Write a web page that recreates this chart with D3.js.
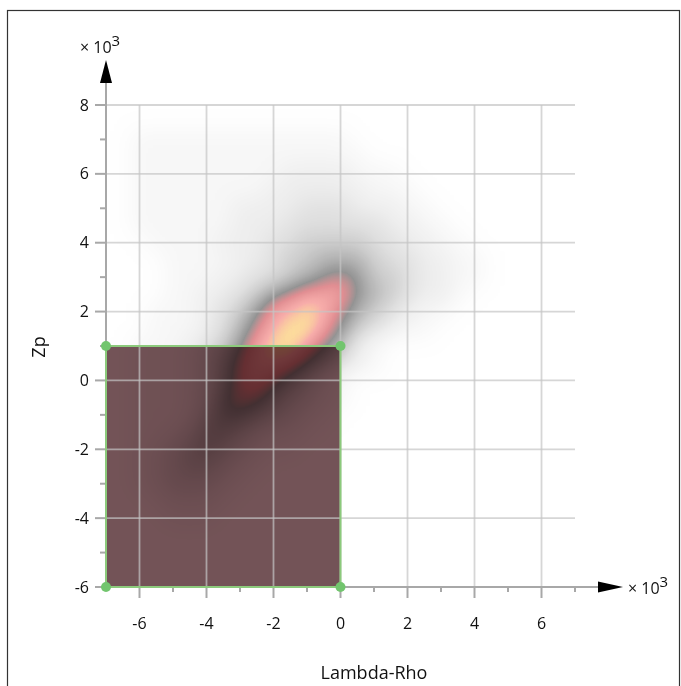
<!DOCTYPE html>
<html>
<head>
<meta charset="utf-8">
<script src="https://cdn.jsdelivr.net/npm/d3@7"></script>
<style>
  body { margin: 0; background: #fff; }
  text { font-family: "Open Sans", "DejaVu Sans", sans-serif; fill: #111; }
</style>
</head>
<body>
<div id="maViz"></div>
<script>
// Données ---------------------------------------------
const xTicks = [-6, -4, -2, 0, 2, 4, 6];
const yTicks = [-6, -4, -2, 0, 2, 4, 6, 8];
const xMinor = [-5, -3, -1, 1, 3, 5, 7];
const yMinor = [-5, -3, -1, 1, 3, 5, 7];
const xTitle = "Lambda-Rho";
const yTitle = "Zp";

// zone sélectionnée (x -7..0, y -6..1)
const boxX = [-7, 0];
const boxY = [-6, 1];

// densité, niveaux 0..9, pas de 0.5
const densX = [-6, -5.5, -5, -4.5, -4, -3.5, -3, -2.5, -2, -1.5, -1, -0.5, 0, 0.5, 1, 1.5, 2, 2.5, 3, 3.5, 4];
const densY = [7, 6.5, 6, 5.5, 5, 4.5, 4, 3.5, 3, 2.5, 2, 1.5, 1, 0.5, 0, -0.5, -1, -1.5, -2, -2.5, -3, -3.5, -4];
const densLevels = [
  [1,1,1,1,1,1,1,1,1,1,1,1,1,0,0,0,0,0,0,0,0],
  [1,1,1,1,1,1,1,1,1,1,1,1,1,1,0,0,0,0,0,0,0],
  [1,1,1,1,1,1,1,1,1,2,2,2,2,1,1,1,0,0,0,0,0],
  [1,1,1,1,1,1,1,1,2,2,2,2,2,2,1,1,1,0,0,0,0],
  [1,1,1,1,1,1,2,2,2,2,3,3,3,2,2,2,1,1,0,0,0],
  [1,1,1,1,1,1,2,2,2,3,3,3,3,3,3,2,2,1,1,0,0],
  [0,1,1,1,1,2,2,2,3,3,4,4,4,4,3,3,2,2,1,1,0],
  [0,0,1,1,1,1,2,2,3,4,4,5,5,5,4,3,3,2,2,1,1],
  [0,0,1,1,1,2,2,3,3,4,5,6,7,6,4,4,3,2,2,1,1],
  [0,0,1,1,2,2,3,4,6,7,8,8,8,6,5,4,3,2,2,1,0],
  [0,1,1,1,2,3,4,6,8,8,9,8,7,5,4,3,2,1,1,0,0],
  [0,1,1,1,2,3,5,7,8,9,9,8,6,4,3,2,1,1,0,0,0],
  [1,1,1,2,3,4,6,8,9,9,8,6,5,2,1,0,0,0,0,0,0],
  [1,1,1,2,3,5,7,8,8,8,6,5,3,2,1,0,0,0,0,0,0],
  [1,1,1,2,3,5,7,8,7,5,4,2,1,0,0,0,0,0,0,0,0],
  [1,1,1,2,3,6,7,7,5,4,3,2,1,0,0,0,0,0,0,0,0],
  [1,1,1,2,4,6,6,5,4,3,2,1,0,0,0,0,0,0,0,0,0],
  [1,1,2,3,5,5,4,3,2,2,1,0,0,0,0,0,0,0,0,0,0],
  [1,2,3,4,5,4,3,2,1,1,0,0,0,0,0,0,0,0,0,0,0],
  [1,2,3,4,4,3,2,1,0,0,0,0,0,0,0,0,0,0,0,0,0],
  [1,2,3,3,3,2,1,0,0,0,0,0,0,0,0,0,0,0,0,0,0],
  [0,1,2,2,2,1,0,0,0,0,0,0,0,0,0,0,0,0,0,0,0],
  [0,0,1,1,1,0,0,0,0,0,0,0,0,0,0,0,0,0,0,0,0]
];

// palette : blanc -> gris -> rose -> jaune (un par niveau)
const paletteR = [255, 247, 238, 224, 204, 178, 148, 225, 247, 255];
const paletteG = [255, 247, 238, 224, 204, 178, 148, 142, 172, 242];
const paletteB = [255, 247, 238, 224, 204, 178, 148, 146, 170, 150];

// Dimensions ------------------------------------------
const W = 681, H = 686;
const boxColor = '#735357';
const green = '#8cca7c';
const axisColor = '#a8a8a8';

const svg = d3.select("#maViz")
  .append("svg")
    .attr("width", W)
    .attr("height", H);

const x = d3.scaleLinear().domain([-7, 7]).range([106, 575]);
const y = d3.scaleLinear().domain([-6, 8]).range([587, 105]);
const lvl = d3.scaleLinear().domain([0, 9]).range([0, 255]);

// cadre
svg.append("rect")
  .attr("x", 7.5).attr("y", 10.5)
  .attr("width", 672).attr("height", 700)
  .attr("fill", "none").attr("stroke", "#333").attr("stroke-width", 1.2);

const defs = svg.append("defs");
const filt = defs.append("filter")
  .attr("id", "heat")
  .attr("x", "-5%").attr("y", "-5%").attr("width", "110%").attr("height", "110%")
  .attr("color-interpolation-filters", "sRGB");
filt.append("feGaussianBlur").attr("stdDeviation", 11);
const ct = filt.append("feComponentTransfer");
ct.append("feFuncR").attr("type", "table").attr("tableValues", paletteR.map(v => (v / 255).toFixed(3)).join(" "));
ct.append("feFuncG").attr("type", "table").attr("tableValues", paletteG.map(v => (v / 255).toFixed(3)).join(" "));
ct.append("feFuncB").attr("type", "table").attr("tableValues", paletteB.map(v => (v / 255).toFixed(3)).join(" "));

defs.append("clipPath").attr("id", "plotClip")
  .append("rect")
    .attr("x", x(-7)).attr("y", y(8))
    .attr("width", x(7) - x(-7)).attr("height", y(-6) - y(8));

// Densité ---------------------------------------------
const cells = [];
densY.forEach((yy, i) => densX.forEach((xx, j) => cells.push({x: xx, y: yy, v: densLevels[i][j]})));

const heat = svg.append("g").attr("clip-path", "url(#plotClip)")
  .append("g").attr("filter", "url(#heat)");

heat.append("rect")
  .attr("x", x(-9)).attr("y", y(10))
  .attr("width", x(9) - x(-9)).attr("height", y(-8) - y(10))
  .attr("fill", "#000");

heat.selectAll("rect.cell")
  .data(cells)
  .join("rect")
    .attr("class", "cell")
    .attr("x", d => x(d.x - 0.25))
    .attr("y", d => y(d.y + 0.25))
    .attr("width", x(0.5) - x(0) + 0.5)
    .attr("height", y(0) - y(0.5) + 0.5)
    .attr("fill", d => { const g = Math.round(lvl(d.v)); return `rgb(${g},${g},${g})`; });

// zone brune (multiply)
svg.append("rect")
  .attr("x", x(boxX[0])).attr("y", y(boxY[1]))
  .attr("width", x(boxX[1]) - x(boxX[0]))
  .attr("height", y(boxY[0]) - y(boxY[1]))
  .attr("fill", boxColor)
  .style("mix-blend-mode", "multiply");

// Grille ----------------------------------------------
const grid = svg.append("g")
  .attr("stroke", "#c4c4c4").attr("stroke-opacity", 0.7).attr("stroke-width", 1.8);
grid.selectAll("line.gx")
  .data(xTicks)
  .join("line").attr("class", "gx")
    .attr("x1", d => x(d)).attr("x2", d => x(d))
    .attr("y1", y(-6)).attr("y2", y(8));
grid.selectAll("line.gy")
  .data(yTicks)
  .join("line").attr("class", "gy")
    .attr("x1", x(-7)).attr("x2", x(7))
    .attr("y1", d => y(d)).attr("y2", d => y(d));

// Axes ------------------------------------------------
const ax = svg.append("g").attr("stroke", axisColor).attr("stroke-width", 2);
ax.append("line").attr("x1", x(-7)).attr("x2", 600).attr("y1", y(-6)).attr("y2", y(-6));
ax.append("line").attr("x1", x(-7)).attr("x2", x(-7)).attr("y1", y(-6)).attr("y2", 80);

ax.selectAll("line.tx")
  .data(xTicks.concat(xMinor))
  .join("line").attr("class", "tx")
    .attr("x1", d => x(d)).attr("x2", d => x(d))
    .attr("y1", y(-6)).attr("y2", d => y(-6) + (d % 2 === 0 ? 11 : 5));
ax.selectAll("line.ty")
  .data(yTicks.concat(yMinor))
  .join("line").attr("class", "ty")
    .attr("y1", d => y(d)).attr("y2", d => y(d))
    .attr("x1", x(-7)).attr("x2", d => x(-7) - (d % 2 === 0 ? 11 : 6));

// flèches
svg.append("path")
  .attr("d", `M${x(-7)},60 L${x(-7) - 6},83 L${x(-7) + 6},83 Z`)
  .attr("fill", "#000");
svg.append("path")
  .attr("d", `M623,${y(-6)} L598,${y(-6) - 5.5} L598,${y(-6) + 5.5} Z`)
  .attr("fill", "#000");

// contour vert + points
svg.append("rect")
  .attr("x", x(boxX[0])).attr("y", y(boxY[1]))
  .attr("width", x(boxX[1]) - x(boxX[0]))
  .attr("height", y(boxY[0]) - y(boxY[1]))
  .attr("fill", "none").attr("stroke", green).attr("stroke-width", 2);

const corners = [];
boxX.forEach(a => boxY.forEach(b => corners.push([a, b])));
svg.selectAll("circle.corner")
  .data(corners)
  .join("circle").attr("class", "corner")
    .attr("cx", d => x(d[0])).attr("cy", d => y(d[1]))
    .attr("r", 5)
    .attr("fill", "#72c56e");

// Textes ----------------------------------------------
svg.selectAll("text.lx")
  .data(xTicks)
  .join("text").attr("class", "lx")
    .attr("x", d => x(d)).attr("y", 629)
    .attr("text-anchor", "middle").attr("font-size", 16)
    .text(d => d);
svg.selectAll("text.ly")
  .data(yTicks)
  .join("text").attr("class", "ly")
    .attr("x", 89).attr("y", d => y(d) + 5.5)
    .attr("text-anchor", "end").attr("font-size", 16)
    .text(d => d);

svg.append("text")
  .attr("x", 374).attr("y", 679)
  .attr("text-anchor", "middle").attr("font-size", 18)
  .text(xTitle);
svg.append("text")
  .attr("transform", "translate(45,347) rotate(-90)")
  .attr("text-anchor", "middle").attr("font-size", 18)
  .text(yTitle);

function multLabel(px, py) {
  const t = svg.append("text").attr("x", px).attr("y", py).attr("font-size", 16);
  t.append("tspan").text("× 10");
  t.append("tspan").attr("dy", -7).attr("font-size", 15).text("3");
}
multLabel(80, 53);
multLabel(628, 594);
</script>
</body>
</html>
